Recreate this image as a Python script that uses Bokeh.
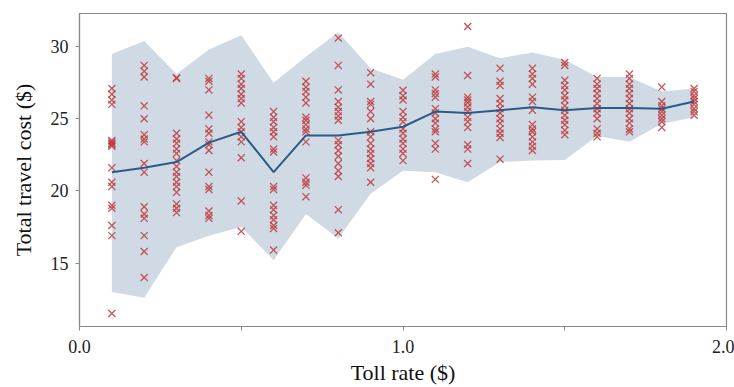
from bokeh.plotting import figure
from bokeh.models import FixedTicker, Range1d
from bokeh.embed import file_html
from bokeh.resources import INLINE

tolls = [0.1, 0.2, 0.3, 0.4, 0.5, 0.6, 0.7, 0.8, 0.9, 1.0,
         1.1, 1.2, 1.3, 1.4, 1.5, 1.6, 1.7, 1.8, 1.9]

g01 = [27.1, 26.7, 26.3, 26.0, 23.5, 23.4, 23.3, 23.2, 23.1, 21.6, 20.6, 20.3, 19.0, 18.8, 17.6, 16.9, 11.5]
g02 = [28.7, 28.3, 27.9, 25.9, 25.0, 23.9, 23.6, 23.4, 21.9, 21.3, 18.9, 18.4, 18.1, 16.9, 15.8, 14.0]
g03 = [27.85, 27.8, 24.0, 23.6, 23.3, 22.9, 22.6, 22.1, 21.7, 21.3, 21.0, 20.6, 20.3, 19.9, 19.1, 18.8, 18.5]
g04 = [27.8, 27.6, 27.0, 25.25, 24.3, 24.0, 23.4, 23.2, 22.8, 21.3, 20.3, 20.1, 18.6, 18.3, 18.1]
g05 = [28.1, 27.8, 27.4, 27.1, 26.7, 26.4, 26.1, 24.8, 24.4, 24.1, 23.75, 23.4, 22.3, 19.3, 17.2]
g06 = [25.5, 25.1, 24.8, 24.4, 24.1, 23.75, 22.9, 22.7, 20.3, 20.1, 19.0, 18.7, 18.3, 18.0, 17.6, 17.4, 15.9]
g07 = [27.6, 27.2, 26.9, 26.5, 26.1, 25.1, 24.9, 24.6, 24.3, 24.1, 23.4, 20.9, 20.6, 20.4, 19.6]
g08 = [30.6, 28.7, 27.0, 26.2, 25.8, 25.5, 25.2, 24.9, 23.5, 23.2, 22.8, 22.4, 21.9, 21.4, 21.0, 18.7, 17.1]
g09 = [28.2, 27.4, 26.2, 26.0, 25.5, 25.0, 24.1, 23.75, 23.3, 22.9, 22.6, 22.25, 21.9, 21.6, 20.6]
g10 = [26.98, 26.6, 26.3, 25.5, 25.1, 24.8, 24.3, 24.0, 23.6, 23.3, 22.9, 22.6, 22.1]
g11 = [28.1, 27.9, 27.0, 26.75, 26.5, 25.7, 25.4, 25.0, 24.7, 24.3, 24.1, 23.3, 22.9, 20.8]
g12 = [31.4, 28.0, 26.5, 26.3, 26.1, 25.8, 25.5, 25.1, 24.8, 24.4, 23.2, 22.9, 21.9]
g13 = [28.5, 27.6, 27.3, 26.4, 26.06, 25.7, 25.4, 25.0, 24.7, 24.3, 24.0, 23.7, 22.2]
g14 = [28.5, 28.1, 27.8, 27.4, 26.5, 26.2, 25.6, 24.6, 24.3, 24.1, 23.75, 23.4, 23.1, 22.8]
g15 = [28.9, 28.7, 27.67, 27.3, 27.0, 26.6, 26.3, 25.9, 25.6, 25.25, 24.9, 24.6, 24.2, 23.9]
g16 = [27.8, 27.4, 27.1, 26.75, 26.4, 26.06, 25.7, 25.4, 25.0, 24.3, 24.0, 23.75]
g17 = [28.1, 27.8, 27.4, 27.1, 26.75, 26.4, 26.06, 25.7, 25.4, 25.0, 24.7, 24.3, 24.1]
g18 = [27.2, 26.2, 25.9, 25.7, 25.5, 25.25, 25.0, 24.8, 24.4]
g19 = [27.1, 26.9, 26.6, 26.4, 26.2, 26.0, 25.7, 25.5, 25.25]

mean_cost = [21.3, 21.6, 22.0, 23.35, 24.1, 21.3, 23.85, 23.85, 24.1, 24.45,
             25.5, 25.4, 25.6, 25.8, 25.6, 25.75, 25.75, 25.7, 26.2]
band_upper = [29.5, 30.4, 28.1, 29.8, 30.8, 27.5, 29.3, 31.0, 28.5, 27.7,
              29.5, 30.0, 29.2, 29.6, 29.1, 27.9, 27.9, 26.9, 27.1]
band_lower = [13.0, 12.6, 16.1, 16.9, 17.5, 15.2, 18.4, 16.7, 19.8, 21.4,
              21.3, 20.6, 22.0, 22.1, 22.15, 23.8, 23.4, 24.65, 25.1]

x_ticks = [0, 1, 2]
x_minor = [0.5, 1.5]
y_ticks = [15, 20, 25, 30]

groups = [g01, g02, g03, g04, g05, g06, g07, g08, g09, g10,
          g11, g12, g13, g14, g15, g16, g17, g18, g19]
sx, sy = [], []
for t, g in zip(tolls, groups):
    sx.extend([t] * len(g))
    sy.extend(g)

FONT = "Liberation Serif"
GRAY = "#8a8a8a"

p = figure(width=734, height=387, output_backend="svg", toolbar_location=None,
           x_range=Range1d(0, 2), y_range=Range1d(10.6, 32.3),
           min_border_left=79, min_border_right=8, min_border_top=13, min_border_bottom=61)
p.grid.visible = False
p.outline_line_color = GRAY
p.outline_line_width = 1.2

p.varea(x=tolls, y1=band_lower, y2=band_upper, fill_color="#cfdae5", fill_alpha=1.0)
p.scatter(sx, sy, marker="x", size=10, line_color="#c0393b", line_width=1.3, line_alpha=0.85)
p.line(tolls, mean_cost, line_color="#2b5b88", line_width=2)

p.xaxis.ticker = FixedTicker(ticks=x_ticks, minor_ticks=x_minor)
p.xaxis.major_label_overrides = {0: "0.0", 1: "1.0", 2: "2.0"}
p.yaxis.ticker = FixedTicker(ticks=y_ticks)

for ax in (p.xaxis[0], p.yaxis[0]):
    ax.axis_line_color = GRAY
    ax.axis_line_width = 1.2
    ax.major_tick_line_color = GRAY
    ax.minor_tick_line_color = GRAY
    ax.major_tick_in = 0
    ax.major_tick_out = 4
    ax.minor_tick_in = 0
    ax.minor_tick_out = 4
    ax.major_label_text_font = FONT
    ax.major_label_text_font_size = "18px"
    ax.major_label_text_color = "#222222"
    ax.axis_label_text_font = FONT
    ax.axis_label_text_font_size = "22px"
    ax.axis_label_text_font_style = "normal"
    ax.axis_label_text_color = "#111111"

p.yaxis.minor_tick_line_color = None
p.xaxis.axis_label = "Toll rate ($)"
p.yaxis.axis_label = "Total travel cost ($)"
p.xaxis.major_label_standoff = 9
p.xaxis.axis_label_standoff = 4
p.yaxis.major_label_standoff = 7
p.yaxis.axis_label_standoff = 12

open("out.html", "w").write(file_html(p, INLINE))
